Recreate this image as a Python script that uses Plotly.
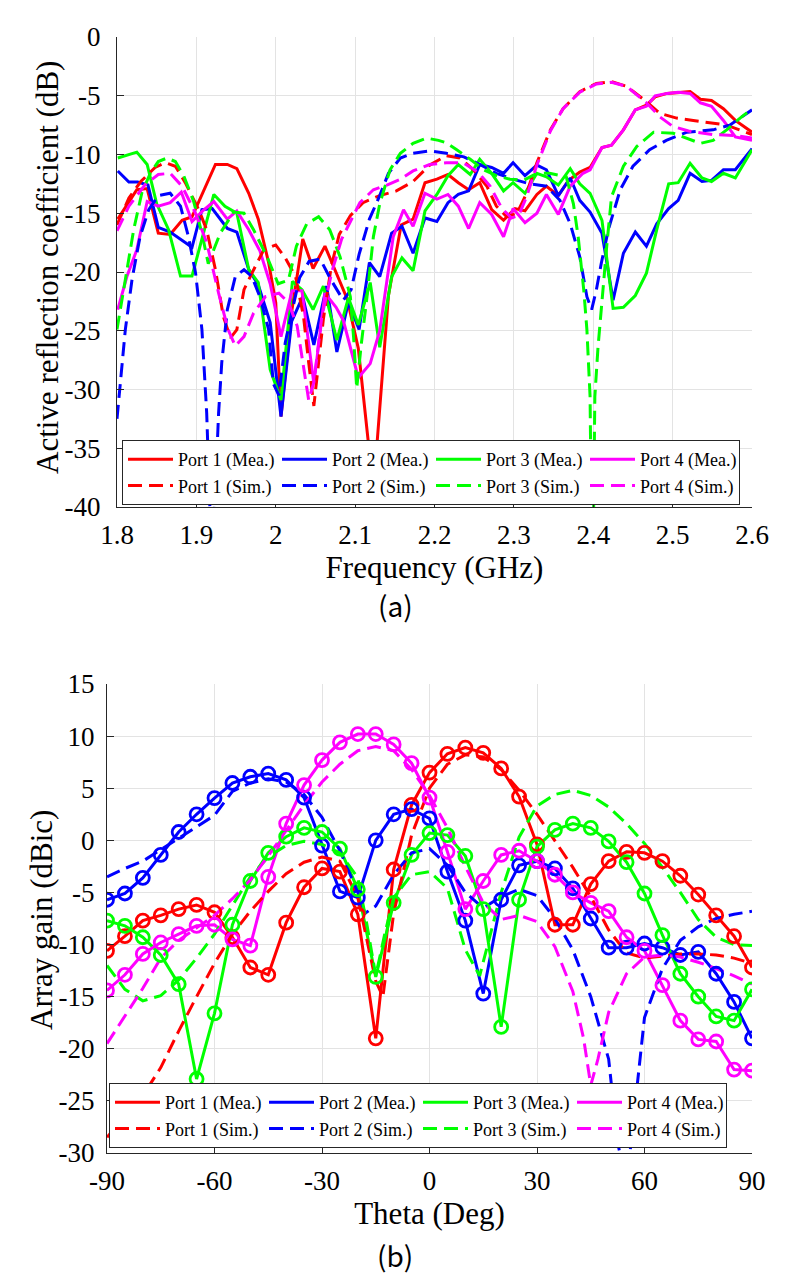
import plotly.graph_objects as go

# ---------------- (a) Active reflection coefficient ----------------
f_p1_mea = [1.801, 1.8126, 1.825, 1.838, 1.852, 1.867, 1.882, 1.8945, 1.924, 1.939, 1.951, 1.966, 1.978, 1.991, 2.0, 2.0066,
            2.0205, 2.034, 2.047, 2.062, 2.077, 2.09, 2.104, 2.113, 2.119, 2.126, 2.131, 2.142, 2.158, 2.173, 2.188, 2.203,
            2.217, 2.230, 2.243, 2.257, 2.272, 2.287, 2.3015, 2.314, 2.329, 2.341, 2.356, 2.369, 2.383, 2.396, 2.411, 2.423,
            2.438, 2.453, 2.467, 2.478, 2.493, 2.507, 2.522, 2.535, 2.549, 2.564, 2.579, 2.6]
v_p1_mea = [-15.5, -14.3, -13.0, -12.9, -16.7, -16.8, -15.6, -15.3, -10.85, -10.85, -11.2, -13.3, -15.5, -19.2, -22.6, -32.3,
            -23.2, -17.2, -19.7, -17.8, -20.2, -22.3, -26.5, -32.0, -36.0, -36.0, -31.4, -22.0, -16.0, -15.5, -12.4, -12.1,
            -11.7, -12.4, -13.0, -12.4, -14.7, -15.6, -14.6, -14.8, -13.4, -12.7, -13.5, -12.2, -11.5, -11.1, -9.4, -9.2,
            -7.9, -6.2, -5.8, -5.1, -4.8, -4.7, -4.65, -5.3, -5.4, -6.1, -7.1, -8.1]

f_p2_mea = [1.801, 1.815, 1.826, 1.839, 1.852, 1.867, 1.8945, 1.907, 1.92, 1.939, 1.951, 1.966, 1.978, 1.993, 2.0066, 2.020,
            2.034, 2.048, 2.064, 2.077, 2.0915, 2.105, 2.118, 2.131, 2.146, 2.159, 2.173, 2.188, 2.203, 2.217, 2.230, 2.243,
            2.257, 2.272, 2.287, 2.299, 2.314, 2.329, 2.341, 2.356, 2.371, 2.383, 2.396, 2.411, 2.425, 2.438, 2.453, 2.467,
            2.480, 2.495, 2.507, 2.522, 2.537, 2.549, 2.564, 2.579, 2.6]
v_p2_mea = [-11.4, -12.35, -12.35, -12.6, -16.2, -16.6, -17.9, -14.7, -14.6, -16.3, -16.6, -19.8, -21.1, -24.3, -32.3, -24.2,
            -22.1, -26.2, -21.2, -26.8, -22.6, -24.9, -19.2, -20.4, -16.7, -16.1, -18.4, -15.4, -15.7, -14.1, -13.4, -13.1,
            -10.85, -11.1, -11.6, -10.7, -11.8, -10.9, -11.3, -13.5, -12.0, -13.9, -14.9, -16.7, -22.4, -18.4, -16.6, -17.8,
            -15.9, -14.6, -13.9, -11.6, -12.3, -12.2, -11.3, -11.3, -9.5]

f_p3_mea = [1.801, 1.825, 1.838, 1.85, 1.865, 1.88, 1.8945, 1.922, 1.936, 1.951, 1.966, 1.978, 1.993, 2.0066, 2.021, 2.033,
            2.047, 2.06, 2.077, 2.0915, 2.104, 2.119, 2.131, 2.146, 2.159, 2.173, 2.188, 2.203, 2.217, 2.230, 2.245, 2.257,
            2.272, 2.287, 2.299, 2.314, 2.329, 2.341, 2.356, 2.371, 2.383, 2.396, 2.411, 2.425, 2.438, 2.453, 2.467, 2.48,
            2.495, 2.507, 2.522, 2.537, 2.549, 2.564, 2.579, 2.6]
v_p3_mea = [-10.3, -9.8, -10.85, -14.2, -16.4, -20.35, -20.35, -13.4, -14.4, -15.0, -19.8, -20.9, -28.3, -30.9, -20.8, -21.5,
            -23.2, -21.2, -25.8, -22.2, -24.5, -20.9, -26.4, -20.4, -18.8, -19.9, -14.8, -13.4, -11.8, -10.85, -11.7, -10.4,
            -11.6, -13.1, -12.4, -13.3, -11.6, -11.9, -12.6, -11.2, -12.5, -13.3, -15.6, -23.1, -23.0, -22.0, -20.1, -16.4,
            -12.5, -12.4, -10.75, -12.0, -12.3, -11.6, -12.0, -9.6]

f_p4_mea = [1.801, 1.8126, 1.825, 1.838, 1.852, 1.867, 1.881, 1.8945, 1.908, 1.922, 1.939, 1.951, 1.966, 1.98, 1.993, 2.0066,
            2.0205, 2.033, 2.048, 2.062, 2.076, 2.085, 2.104, 2.119, 2.131, 2.148, 2.161, 2.173, 2.188, 2.203, 2.217, 2.230,
            2.243, 2.257, 2.272, 2.287, 2.299, 2.314, 2.329, 2.341, 2.356, 2.371, 2.387, 2.396, 2.411, 2.423, 2.438, 2.453,
            2.467, 2.478, 2.493, 2.507, 2.522, 2.535, 2.549, 2.564, 2.579, 2.6]
v_p4_mea = [-23.2, -20.35, -18.1, -14.0, -14.4, -14.1, -13.2, -15.7, -14.8, -14.0, -15.5, -14.8, -16.4, -18.2, -21.0, -25.5,
            -21.6, -21.6, -29.5, -21.8, -23.0, -24.1, -29.0, -27.8, -25.0, -17.0, -14.7, -16.1, -13.3, -13.8, -13.4, -14.4,
            -16.3, -14.1, -15.1, -17.0, -14.6, -15.8, -15.0, -13.4, -15.1, -12.7, -11.6, -11.3, -9.4, -9.2, -7.9, -6.2,
            -5.9, -5.0, -4.8, -4.7, -4.8, -5.6, -5.9, -7.1, -8.5, -8.8]

f_p1_sim = [1.8, 1.815, 1.83, 1.848, 1.861, 1.8735, 1.886, 1.903, 1.913, 1.924, 1.934, 1.943, 1.951, 1.96, 1.970, 1.985,
            2.0, 2.012, 2.025, 2.035, 2.0415, 2.048, 2.054, 2.06, 2.07, 2.08, 2.094, 2.11, 2.131, 2.152, 2.173, 2.194,
            2.215, 2.232, 2.249, 2.266, 2.278, 2.291, 2.304, 2.316, 2.329, 2.346, 2.362, 2.383, 2.404, 2.423, 2.442, 2.467,
            2.484, 2.505, 2.526, 2.547, 2.568, 2.6]
v_p1_sim = [-16.0, -13.7, -12.3, -11.1, -10.7, -11.0, -12.4, -14.7, -16.4, -19.8, -23.8, -25.6, -24.9, -21.5, -20.1, -18.1,
            -17.7, -18.8, -20.4, -23.8, -27.7, -31.4, -27.7, -24.0, -19.5, -16.8, -15.2, -14.1, -13.5, -13.1, -12.3, -10.9,
            -10.1, -10.3, -11.3, -12.7, -14.4, -15.3, -15.0, -13.3, -10.7, -7.9, -6.1, -4.65, -3.95, -3.8, -4.2, -5.5,
            -6.5, -6.9, -7.1, -7.3, -7.5, -8.3]

f_p2_sim = [1.8, 1.805, 1.8105, 1.819, 1.829, 1.84, 1.852, 1.867, 1.88, 1.89, 1.899, 1.907, 1.913, 1.917, 1.92, 1.923,
            1.928, 1.932, 1.939, 1.949, 1.96, 1.97, 1.98, 1.991, 1.997, 2.004, 2.012, 2.02, 2.03, 2.042, 2.056, 2.069,
            2.085, 2.095, 2.105, 2.118, 2.131, 2.142, 2.157, 2.173, 2.194, 2.215, 2.237, 2.257, 2.278, 2.299, 2.32, 2.341,
            2.358, 2.371, 2.383, 2.392, 2.398, 2.404, 2.41, 2.419, 2.434, 2.45, 2.471, 2.492, 2.518, 2.551, 2.572, 2.585, 2.6]
v_p2_sim = [-32.5, -29.0, -24.9, -20.6, -17.0, -14.7, -13.5, -13.3, -14.4, -17.0, -20.1, -24.9, -32.0, -40.0, -48.0, -40.0,
            -32.0, -27.7, -23.2, -20.4, -19.8, -20.4, -22.1, -24.9, -29.5, -30.5, -26.0, -23.5, -20.5, -19.1, -18.9, -20.6,
            -22.4, -21.5, -18.5, -15.5, -13.5, -11.6, -10.3, -9.9, -9.7, -9.9, -10.2, -10.85, -11.6, -12.1, -12.5, -12.7,
            -13.9, -15.9, -18.7, -22.1, -23.2, -21.5, -19.3, -16.4, -13.0, -11.0, -9.6, -8.8, -8.1, -7.9, -7.5, -6.9, -6.2]

f_p3_sim = [1.8, 1.8105, 1.821, 1.8315, 1.842, 1.852, 1.863, 1.8735, 1.884, 1.8966, 1.907, 1.915, 1.93, 1.947, 1.96, 1.972,
            1.989, 2.003, 2.016, 2.026, 2.039, 2.054, 2.068, 2.081, 2.094, 2.098, 2.102, 2.108, 2.115, 2.123, 2.131, 2.144,
            2.157, 2.173, 2.19, 2.205, 2.215, 2.228, 2.245, 2.262, 2.278, 2.295, 2.312, 2.329, 2.345, 2.366, 2.375, 2.381,
            2.388, 2.392, 2.396, 2.399, 2.402, 2.406, 2.41, 2.417, 2.423, 2.438, 2.455, 2.476, 2.501, 2.518, 2.535, 2.551,
            2.568, 2.585, 2.6]
v_p3_sim = [-24.9, -20.6, -16.4, -13.2, -11.6, -10.6, -10.3, -10.6, -11.8, -14.0, -16.7, -19.3, -16.7, -14.9, -15.0, -16.4,
            -18.7, -21.0, -20.7, -17.8, -15.9, -15.3, -16.4, -18.7, -22.1, -25.5, -29.9, -26.0, -22.1, -17.0, -14.2, -11.3,
            -9.9, -9.05, -8.6, -8.8, -9.0, -9.6, -10.4, -11.3, -11.8, -12.1, -12.2, -11.6, -11.6, -11.9, -14.2, -17.0,
            -21.5, -24.9, -30.6, -50.0, -30.6, -26.4, -23.0, -17.8, -13.6, -11.0, -9.3, -8.1, -8.2, -8.6, -9.05, -8.8,
            -7.9, -6.9, -6.1]

f_p4_sim = [1.8, 1.815, 1.835, 1.852, 1.867, 1.882, 1.899, 1.913, 1.928, 1.94, 1.949, 1.96, 1.972, 1.987, 2.004, 2.016,
            2.027, 2.035, 2.0415, 2.048, 2.058, 2.071, 2.083, 2.106, 2.123, 2.14, 2.157, 2.173, 2.194, 2.215, 2.236, 2.255,
            2.27, 2.285, 2.297, 2.306, 2.316, 2.329, 2.346, 2.362, 2.383, 2.404, 2.423, 2.442, 2.467, 2.484, 2.5, 2.52,
            2.55, 2.58, 2.6]
v_p4_sim = [-16.5, -14.4, -12.6, -11.7, -11.6, -12.7, -15.0, -17.5, -21.8, -24.9, -26.3, -25.5, -23.5, -22.1, -21.8, -22.6,
            -24.6, -28.3, -30.9, -29.4, -23.8, -19.9, -17.2, -14.1, -13.0, -12.6, -12.1, -11.4, -10.85, -10.7, -10.7, -11.5,
            -12.7, -14.6, -15.4, -15.2, -13.6, -10.9, -8.0, -6.1, -4.7, -4.0, -3.85, -4.2, -5.6, -6.8, -7.6, -8.0,
            -8.3, -8.4, -8.6]

freq_ticks = [1.8, 1.9, 2.0, 2.1, 2.2, 2.3, 2.4, 2.5, 2.6]
freq_ticktext = ["1.8", "1.9", "2", "2.1", "2.2", "2.3", "2.4", "2.5", "2.6"]
arc_ticks = [0, -5, -10, -15, -20, -25, -30, -35, -40]
arc_ticktext = ["0", "-5", "-10", "-15", "-20", "-25", "-30", "-35", "-40"]

# ---------------- (b) Array gain ----------------
theta_mea = [-90, -85, -80, -75, -70, -65, -60, -55, -50, -45, -40, -35, -30, -25, -20, -15, -10, -5, 0,
             5, 10, 15, 20, 25, 30, 35, 40, 45, 50, 55, 60, 65, 70, 75, 80, 85, 90]
g_p1_mea = [-10.6, -9.2, -7.7, -7.2, -6.6, -6.2, -6.9, -9.3, -12.2, -12.9, -7.9, -4.5, -2.7, -3.0, -7.1, -19.0, -2.8, 3.4, 6.5,
            8.3, 8.9, 8.4, 6.9, 4.2, -0.4, -8.1, -8.1, -4.2, -2.0, -1.1, -1.2, -2.0, -3.4, -5.2, -7.2, -9.2, -12.2]
g_p2_mea = [-5.7, -5.1, -3.6, -1.4, 0.8, 2.5, 4.05, 5.5, 6.1, 6.4, 5.8, 4.1, -0.5, -4.9, -5.5, 0.0, 2.5, 3.0, 2.1,
            -3.0, -7.7, -14.7, -5.7, -2.4, -2.0, -2.7, -4.6, -7.5, -10.3, -10.3, -9.9, -10.3, -11.0, -10.7, -12.8, -15.5, -19.0]
g_p3_mea = [-7.7, -8.2, -9.3, -11.0, -13.8, -22.9, -16.6, -8.1, -3.9, -1.2, 0.35, 1.2, 0.8, -0.8, -4.7, -13.1, -6.0, -1.4, 0.7,
            0.5, -1.5, -6.6, -17.9, -5.7, -0.6, 1.0, 1.6, 1.2, -0.1, -2.1, -5.1, -9.1, -12.8, -15.0, -16.9, -17.3, -14.3]
g_p4_mea = [-14.4, -12.9, -10.9, -9.8, -9.0, -8.2, -8.1, -9.5, -10.1, -3.5, 1.6, 5.3, 7.7, 9.4, 10.2, 10.2, 9.2, 7.4, 4.1,
            -1.1, -6.6, -3.9, -1.4, -1.0, -2.0, -3.3, -5.0, -6.0, -6.8, -9.3, -10.6, -13.9, -17.3, -19.1, -19.3, -22.0, -22.1]

theta_p1_sim = [-90, -85, -80, -75, -70, -65, -60, -55, -50, -45, -40, -35, -30, -25, -20, -15, -13, -10, -5, 0,
                5, 10, 15, 20, 25, 30, 35, 40, 45, 50, 55, 60, 65, 70, 75, 80, 85, 90]
g_p1_sim = [-28.5, -26.5, -24.5, -21.8, -18.3, -15.0, -11.8, -9.0, -6.8, -4.9, -3.2, -2.1, -1.6, -2.0, -5.5, -13.5, -15.0, -7.0,
            0.5, 5.0, 7.3, 8.2, 8.0, 6.8, 4.8, 2.5, 0.0, -2.6, -5.4, -8.6, -10.8, -11.3, -11.1, -10.9, -10.9, -11.0, -11.3, -11.8]
theta_p2_sim = [-90, -85, -80, -75, -70, -65, -60, -55, -50, -45, -40, -35, -30, -25, -20, -18, -15, -10, -5, 0,
                5, 10, 15, 20, 25, 30, 35, 40, 45, 50, 52.5, 55, 57.5, 60, 65, 70, 75, 80, 85, 90]
g_p2_sim = [-3.5, -2.7, -2.0, -0.9, 0.2, 1.3, 2.4, 4.7, 5.5, 5.9, 5.6, 4.4, 2.2, -1.0, -5.0, -7.0, -6.3, -3.3, -1.2, -0.8,
            -2.4, -5.0, -6.5, -5.4, -4.7, -5.3, -7.5, -10.5, -15.0, -21.0, -29.0, -33.0, -25.0, -17.0, -12.3, -9.6, -8.3,
            -7.5, -7.1, -6.8]
theta_p3_sim = [-90, -85, -80, -75, -70, -65, -60, -55, -50, -45, -40, -35, -30, -25, -20, -17.5, -15, -12.5, -10, -5, 0,
                5, 10, 14, 17, 20, 25, 30, 35, 40, 45, 50, 55, 60, 65, 70, 75, 80, 85, 90]
g_p3_sim = [-12.0, -14.3, -15.4, -14.9, -13.4, -11.3, -9.0, -6.3, -3.5, -1.6, -0.5, -0.1, -0.4, -1.2, -3.6, -8.0, -13.0, -9.0,
            -5.5, -3.3, -3.0, -4.6, -10.5, -13.0, -9.0, -5.0, 0.3, 3.3, 4.4, 4.8, 4.3, 3.2, 1.6, -0.3, -2.6, -5.0, -7.6,
            -9.3, -10.0, -10.1]
theta_p4_sim = [-90, -85, -80, -75, -70, -65, -60, -55, -50, -45, -40, -35, -30, -25, -20, -15, -10, -5, 0,
                5, 10, 15, 20, 25, 30, 35, 40, 43, 45, 47, 50, 55, 60, 65, 70, 75, 80, 85, 90]
g_p4_sim = [-19.5, -16.9, -14.2, -11.3, -9.6, -8.4, -7.2, -5.6, -3.8, -1.5, 1.0, 3.4, 5.6, 7.3, 8.6, 9.0, 8.6, 6.8, 4.3,
            1.2, -2.5, -6.0, -7.6, -7.2, -7.8, -10.2, -14.5, -19.0, -23.5, -21.0, -16.5, -12.8, -11.2, -11.0, -11.2, -11.7,
            -12.3, -13.0, -13.8]

theta_ticks = [-90, -60, -30, 0, 30, 60, 90]
theta_ticktext = ["-90", "-60", "-30", "0", "30", "60", "90"]
gain_ticks = [15, 10, 5, 0, -5, -10, -15, -20, -25, -30]
gain_ticktext = ["15", "10", "5", "0", "-5", "-10", "-15", "-20", "-25", "-30"]

# ---------------- styling ----------------
RED, BLUE, GREEN, MAG = "#ff0000", "#0000ff", "#00ff00", "#ff00ff"
colors = [RED, BLUE, GREEN, MAG]
LW = 3
DASH = "14px,7px"
SERIF = "Liberation Serif, Times New Roman, serif"

fig = go.Figure()

mea_a = [(f_p1_mea, v_p1_mea), (f_p2_mea, v_p2_mea), (f_p3_mea, v_p3_mea), (f_p4_mea, v_p4_mea)]
sim_a = [(f_p1_sim, v_p1_sim), (f_p2_sim, v_p2_sim), (f_p3_sim, v_p3_sim), (f_p4_sim, v_p4_sim)]
for i, (x, y) in enumerate(mea_a):
    fig.add_trace(go.Scatter(x=x, y=y, mode="lines", name=f"Port {i+1} (Mea.)",
                             line=dict(color=colors[i], width=LW), xaxis="x", yaxis="y", legend="legend"))
for i, (x, y) in enumerate(sim_a):
    fig.add_trace(go.Scatter(x=x, y=y, mode="lines", name=f"Port {i+1} (Sim.)",
                             line=dict(color=colors[i], width=LW, dash=DASH), xaxis="x", yaxis="y", legend="legend"))

mea_b = [g_p1_mea, g_p2_mea, g_p3_mea, g_p4_mea]
sim_b = [(theta_p1_sim, g_p1_sim), (theta_p2_sim, g_p2_sim), (theta_p3_sim, g_p3_sim), (theta_p4_sim, g_p4_sim)]
for i, y in enumerate(mea_b):
    fig.add_trace(go.Scatter(x=theta_mea, y=y, mode="lines", name=f"Port {i+1} (Mea.)", legendgroup=f"m{i}",
                             line=dict(color=colors[i], width=LW), xaxis="x2", yaxis="y2", legend="legend2"))
for i, (x, y) in enumerate(sim_b):
    fig.add_trace(go.Scatter(x=x, y=y, mode="lines", name=f"Port {i+1} (Sim.)",
                             line=dict(color=colors[i], width=LW, dash=DASH), xaxis="x2", yaxis="y2", legend="legend2"))
for i, y in enumerate(mea_b):
    fig.add_trace(go.Scatter(x=theta_mea, y=y, mode="markers", showlegend=False, legendgroup=f"m{i}",
                             marker=dict(symbol="circle-open", size=13, color=colors[i], line=dict(width=2.8, color=colors[i])),
                             xaxis="x2", yaxis="y2"))

W, H = 800, 1288
ML, MR = 60, 40
PW = W - ML - MR


def px_x(p):
    return (p - ML) / PW


def px_y(p):
    return 1 - p / H


TICKFONT = dict(family=SERIF, size=27, color="black")
TITLEFONT = dict(family=SERIF, size=31, color="black")
axis_common = dict(showgrid=True, gridcolor="#e3e3e3", gridwidth=1, showline=True, linecolor="#262626", linewidth=1,
                   ticks="inside", ticklen=7, tickcolor="#262626", zeroline=False, mirror=False, automargin=False,
                   tickfont=TICKFONT)

legend_common = dict(xanchor="left", yanchor="top", orientation="h", itemwidth=45,
                     entrywidth=94, entrywidthmode="pixels", traceorder="normal",
                     bordercolor="#262626", borderwidth=1, bgcolor="white",
                     font=dict(family=SERIF, size=18, color="black"))

fig.update_layout(
    width=W, height=H, margin=dict(l=ML, r=MR, t=0, b=0, pad=0), autosize=False,
    paper_bgcolor="white", plot_bgcolor="white",
    xaxis=dict(axis_common, domain=[px_x(117), px_x(752)], anchor="y", range=[1.8, 2.6],
               tickvals=freq_ticks, ticktext=freq_ticktext, ticklabelstandoff=4,
               title=dict(text="Frequency (GHz)", font=TITLEFONT, standoff=6)),
    yaxis=dict(axis_common, domain=[px_y(507), px_y(37)], anchor="x", range=[-40, 0],
               tickvals=arc_ticks, ticktext=arc_ticktext, ticklabelstandoff=10),
    xaxis2=dict(axis_common, domain=[px_x(107), px_x(752)], anchor="y2", range=[-90, 90],
                tickvals=theta_ticks, ticktext=theta_ticktext, ticklabelstandoff=4,
                title=dict(text="Theta (Deg)", font=TITLEFONT, standoff=6)),
    yaxis2=dict(axis_common, domain=[px_y(1153), px_y(684)], anchor="x2", range=[-30, 15],
                tickvals=gain_ticks, ticktext=gain_ticktext, ticklabelstandoff=6),
    legend=dict(legend_common, x=px_x(122), y=px_y(440)),
    legend2=dict(legend_common, x=px_x(109), y=px_y(1083)),
    annotations=[
        dict(text="Active reflection coefficient (dB)", textangle=-90, x=px_x(47), y=px_y(268),
             xref="paper", yref="paper", showarrow=False, font=TITLEFONT, xanchor="center", yanchor="middle"),
        dict(text="Array gain (dBic)", textangle=-90, x=px_x(41), y=px_y(920),
             xref="paper", yref="paper", showarrow=False, font=TITLEFONT, xanchor="center", yanchor="middle"),
        dict(text="(a)", x=px_x(395), y=px_y(605), xref="paper", yref="paper", showarrow=False,
             font=dict(family="Noto Sans CJK KR", size=28, color="black"), xanchor="center", yanchor="middle"),
        dict(text="(b)", x=px_x(395), y=px_y(1255), xref="paper", yref="paper", showarrow=False,
             font=dict(family="Noto Sans CJK KR", size=28, color="black"), xanchor="center", yanchor="middle"),
    ],
)

fig.write_html("out.html")
